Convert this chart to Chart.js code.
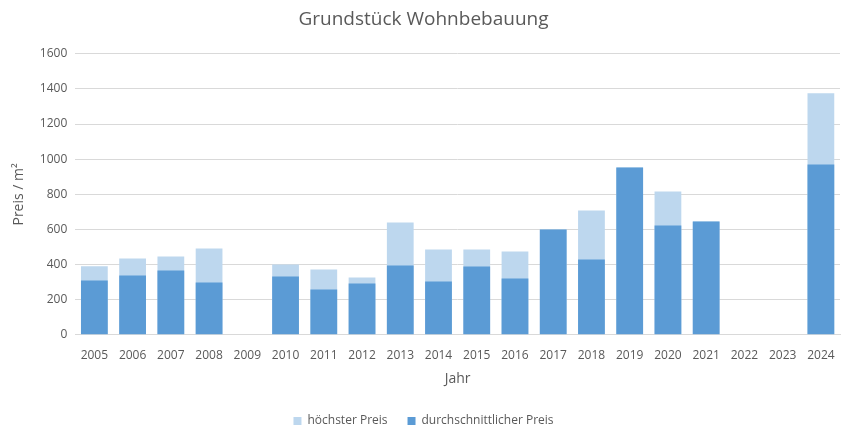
<!DOCTYPE html>
<html>
<head>
<meta charset="utf-8">
<script src="https://cdn.jsdelivr.net/npm/chart.js@4"></script>
<style>
  html, body { margin: 0; padding: 0; background: #fff; }
  #wrap { width: 848px; height: 429px; }
</style>
</head>
<body>
<div id="wrap"><canvas id="chart"></canvas></div>
<script>
// Grundstück Wohnbebauung - Preis / m² pro Jahr
const YEARS = ['2005','2006','2007','2008','2009','2010','2011','2012','2013','2014',
               '2015','2016','2017','2018','2019','2020','2021','2022','2023','2024'];
const MAX_PRICE = [390, 435, 446, 492, null, 400, 372, 326, 640, 486,
                   486, 474, 600, 708, 953, 816, 645, null, null, 1375];
const AVG_PRICE = [309, 338, 366, 298, null, 332, 258, 292, 395, 304,
                   389, 321, 600, 429, 953, 622, 645, null, null, 970];
const Y_TICKS = [0, 200, 400, 600, 800, 1000, 1200, 1400, 1600];

const TEXT = '#595959';
const GRID = '#D9D9D9';
const FONT = "'Open Sans', 'Liberation Sans', sans-serif";

new Chart(document.getElementById('chart'), {
  type: 'bar',
  data: {
    labels: YEARS,
    datasets: [
      {
        label: 'höchster Preis',
        data: MAX_PRICE,
        backgroundColor: '#BDD7EE',
        grouped: false,
        order: 1,
        categoryPercentage: 1,
        barPercentage: 0.7
      },
      {
        label: 'durchschnittlicher Preis',
        data: AVG_PRICE,
        backgroundColor: '#5B9BD5',
        grouped: false,
        order: 0,
        categoryPercentage: 1,
        barPercentage: 0.7
      }
    ]
  },
  options: {
    responsive: true,
    maintainAspectRatio: false,
    animation: false,
    layout: { padding: { left: 7, right: 8, top: 4, bottom: -8 } },
    plugins: {
      title: {
        display: true,
        text: 'Grundstück Wohnbebauung',
        color: TEXT,
        font: { family: FONT, size: 19, weight: 'normal' },
        padding: { top: 4, bottom: 23 }
      },
      legend: {
        position: 'bottom',
        labels: {
          color: TEXT,
          font: { family: FONT, size: 12 },
          boxWidth: 8,
          boxHeight: 8,
          padding: 20,
          sort: (a, b) => a.datasetIndex - b.datasetIndex
        }
      },
      tooltip: { enabled: false }
    },
    scales: {
      x: {
        grid: { display: false },
        border: { color: GRID },
        ticks: { color: TEXT, font: { family: FONT, size: 12 }, maxRotation: 0, padding: 6 },
        title: { display: true, text: 'Jahr', color: TEXT, font: { family: FONT, size: 14 }, padding: { top: 1, bottom: 8 } }
      },
      y: {
        min: 0,
        max: 1600,
        afterBuildTicks: axis => { axis.ticks = Y_TICKS.map(v => ({ value: v })); },
        grid: { color: GRID, drawTicks: false },
        border: { display: false },
        ticks: { color: TEXT, font: { family: FONT, size: 12 }, padding: 8, callback: v => String(v) },
        title: { display: true, text: 'Preis / m²', color: TEXT, font: { family: FONT, size: 14 }, padding: { bottom: 4 } }
      }
    }
  }
});
</script>
</body>
</html>
